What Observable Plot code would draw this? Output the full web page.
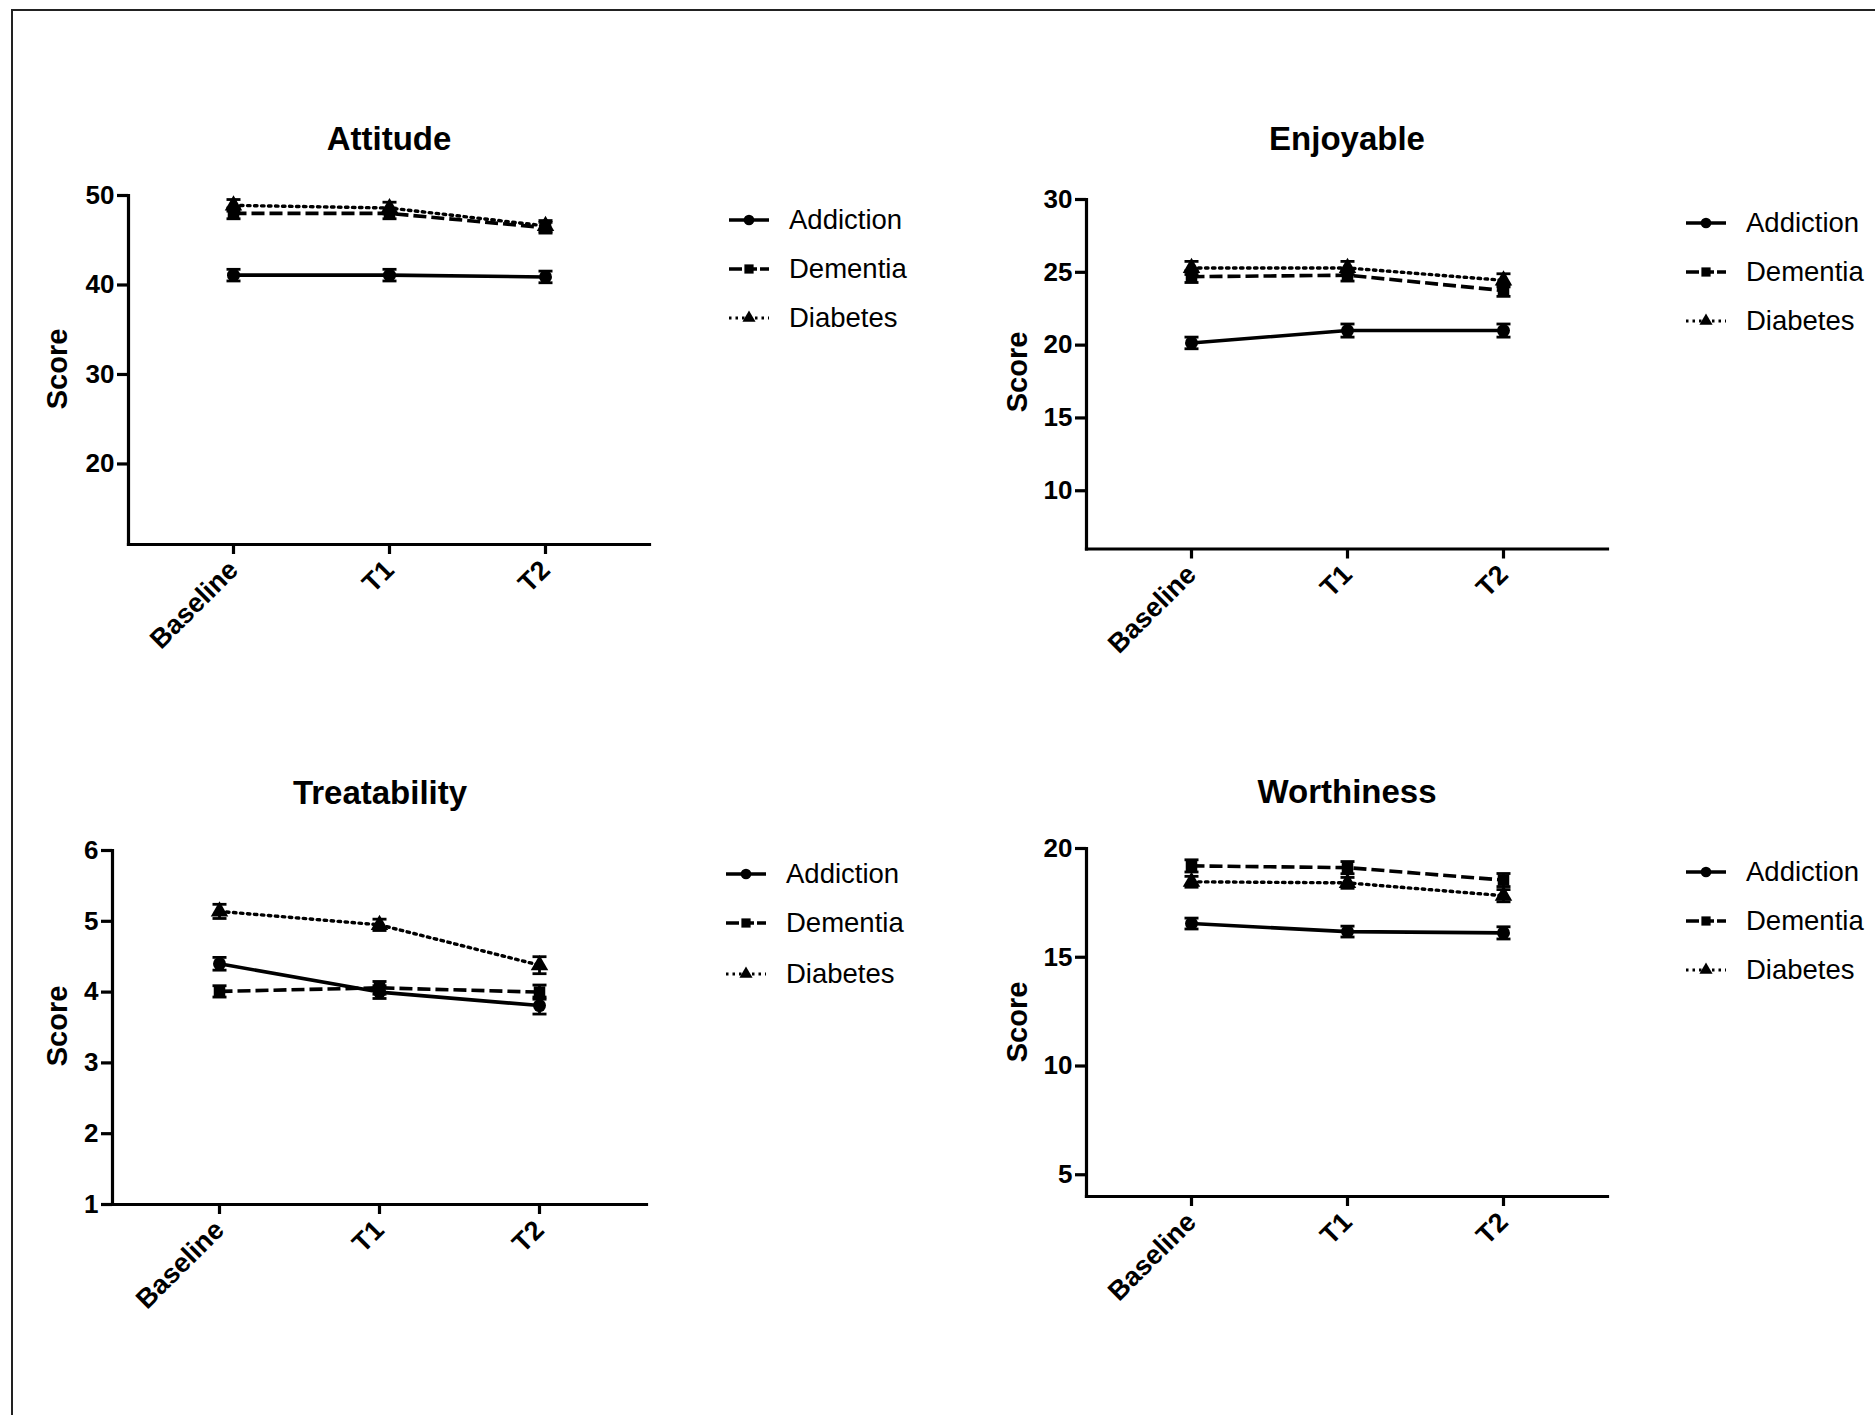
<!DOCTYPE html>
<html>
<head>
<meta charset="utf-8">
<script src="https://cdn.jsdelivr.net/npm/d3@7"></script>
<script src="https://cdn.jsdelivr.net/npm/@observablehq/plot@0.6"></script>
<style>
  html, body { margin: 0; padding: 0; background: #fff; }
  #root { position: relative; width: 1875px; height: 1415px; overflow: hidden; background: #fff; font-family: "Liberation Sans", Arial, sans-serif; color: #000; }
  .border { position: absolute; left: 11px; top: 9px; width: 1900px; height: 1500px; border-left: 2px solid #222; border-top: 2px solid #222; }
  .ptitle { position: absolute; font-weight: bold; font-size: 33px; transform: translate(-50%, -50%); white-space: nowrap; }
  .ylab { position: absolute; font-weight: bold; font-size: 29px; transform: translate(-50%, -50%) rotate(-90deg); white-space: nowrap; }
  .legrow { position: absolute; height: 34px; display: flex; align-items: center; white-space: nowrap; }
  .legtext { font-size: 27.5px; font-weight: normal; }
  .panel { position: absolute; }
  .panel svg { max-width: none !important; overflow: visible; }
</style>
</head>
<body>
<div id="root"><div class="border"></div></div>
<script>
// ---------- data ----------
const timepoints = ["Baseline", "T1", "T2"];
const groups = ["Addiction", "Dementia", "Diabetes"];
const panelTitles = ["Attitude", "Enjoyable", "Treatability", "Worthiness"];
const yAxisLabel = "Score";

const attitudeAddiction = [41.1, 41.1, 40.9];
const attitudeDementia = [48.0, 48.0, 46.4];
const attitudeDiabetes = [48.9, 48.6, 46.6];
const attitudeAddictionSem = [0.65, 0.65, 0.65];
const attitudeDementiaSem = [0.6, 0.6, 0.6];
const attitudeDiabetesSem = [0.65, 0.65, 0.6];
const attitudeTicks = [20, 30, 40, 50];
const attitudeDomain = [11, 50];

const enjoyableAddiction = [20.15, 21.0, 21.0];
const enjoyableDementia = [24.7, 24.8, 23.75];
const enjoyableDiabetes = [25.3, 25.3, 24.45];
const enjoyableAddictionSem = [0.4, 0.45, 0.45];
const enjoyableDementiaSem = [0.4, 0.4, 0.4];
const enjoyableDiabetesSem = [0.45, 0.45, 0.45];
const enjoyableTicks = [10, 15, 20, 25, 30];
const enjoyableDomain = [6, 30];

const treatAddiction = [4.40, 4.00, 3.81];
const treatDementia = [4.01, 4.06, 4.00];
const treatDiabetes = [5.14, 4.95, 4.38];
const treatAddictionSem = [0.09, 0.09, 0.12];
const treatDementiaSem = [0.08, 0.09, 0.10];
const treatDiabetesSem = [0.10, 0.08, 0.12];
const treatTicks = [1, 2, 3, 4, 5, 6];
const treatDomain = [1, 6];

const worthAddiction = [16.55, 16.18, 16.12];
const worthDementia = [19.2, 19.12, 18.55];
const worthDiabetes = [18.47, 18.42, 17.83];
const worthAddictionSem = [0.25, 0.25, 0.28];
const worthDementiaSem = [0.28, 0.28, 0.3];
const worthDiabetesSem = [0.25, 0.25, 0.28];
const worthTicks = [5, 10, 15, 20];
const worthDomain = [4, 20];

// ---------- layout ----------
const layouts = [
  {x0: 128, x1: 649, yTop: 194.5, yBottom: 543.5, title: [389, 139], ylab: [57, 369], legX: 729, legRows: [220, 269, 318]},
  {x0: 1086, x1: 1607, yTop: 198.5, yBottom: 548, title: [1347, 139], ylab: [1017, 372], legX: 1686, legRows: [222.5, 271.5, 320.5]},
  {x0: 112, x1: 646, yTop: 850, yBottom: 1204, title: [380, 793], ylab: [57, 1026], legX: 726, legRows: [874, 923, 973.5]},
  {x0: 1086, x1: 1607, yTop: 848, yBottom: 1196, title: [1347, 792], ylab: [1017, 1022], legX: 1686, legRows: [872, 921, 970]}
];
const panelData = [
  {means: [attitudeAddiction, attitudeDementia, attitudeDiabetes], sems: [attitudeAddictionSem, attitudeDementiaSem, attitudeDiabetesSem], ticks: attitudeTicks, domain: attitudeDomain},
  {means: [enjoyableAddiction, enjoyableDementia, enjoyableDiabetes], sems: [enjoyableAddictionSem, enjoyableDementiaSem, enjoyableDiabetesSem], ticks: enjoyableTicks, domain: enjoyableDomain},
  {means: [treatAddiction, treatDementia, treatDiabetes], sems: [treatAddictionSem, treatDementiaSem, treatDiabetesSem], ticks: treatTicks, domain: treatDomain},
  {means: [worthAddiction, worthDementia, worthDiabetes], sems: [worthAddictionSem, worthDementiaSem, worthDiabetesSem], ticks: worthTicks, domain: worthDomain}
];

const dashes = [null, "13,5", "2.5,4.5"];
const capSymbol = {
  draw(context, size) {
    const w = Math.sqrt(size / Math.PI);
    context.moveTo(-w, 0);
    context.lineTo(w, 0);
  }
};

const root = document.getElementById("root");
const ML = 75, MR = 12, MT = 20, MB = 150;

panelData.forEach((pd, pi) => {
  const L = layouts[pi];
  const rows = [];
  groups.forEach((g, gi) => timepoints.forEach((t, ti) => rows.push({group: g, time: t, value: pd.means[gi][ti], sem: pd.sems[gi][ti]})));
  const plotW = L.x1 - L.x0, plotH = L.yBottom - L.yTop;
  const lineMarks = groups.map((g, gi) => Plot.line(rows.filter(d => d.group === g), {
    x: "time", y: "value", stroke: "#000", strokeWidth: gi === 2 ? 3.4 : 3.6,
    strokeDasharray: dashes[gi] || undefined,
    strokeLinecap: gi === 2 ? "round" : "butt"
  }));
  const svg = Plot.plot({
    width: ML + plotW + MR,
    height: MT + plotH + MB,
    marginLeft: ML, marginRight: MR, marginTop: MT, marginBottom: MB,
    style: {fontFamily: "Liberation Sans, Arial, sans-serif", fontSize: "26px", fontWeight: "bold", color: "#000", background: "transparent", overflow: "visible"},
    x: {type: "point", domain: timepoints, padding: 0.665, label: null},
    y: {domain: pd.domain, label: null},
    symbol: {domain: groups, range: ["circle", "square", "triangle"]},
    marks: [
      Plot.frame({anchor: "left", stroke: "#000", strokeWidth: 3.2}),
      Plot.frame({anchor: "bottom", stroke: "#000", strokeWidth: 3.2}),
      Plot.axisY({ticks: pd.ticks, tickSize: 11, tickPadding: 3, strokeWidth: 3.2, label: null, tickFormat: d => String(d)}),
      Plot.axisX({tickSize: 10, tickPadding: 11, tickRotate: -45, strokeWidth: 3.2, label: null, fontSize: 27}),
      Plot.ruleX(rows, {x: "time", y1: d => d.value - d.sem, y2: d => d.value + d.sem, stroke: "#000", strokeWidth: 2.8}),
      Plot.dot(rows, {x: "time", y: d => d.value - d.sem, symbol: capSymbol, r: 7, stroke: "#000", strokeWidth: 2.8, fill: "none"}),
      Plot.dot(rows, {x: "time", y: d => d.value + d.sem, symbol: capSymbol, r: 7, stroke: "#000", strokeWidth: 2.8, fill: "none"}),
      ...lineMarks,
      Plot.dot(rows, {x: "time", y: "value", symbol: "group", fill: "#000", stroke: "none", r: 6.5})
    ]
  });
  const holder = document.createElement("div");
  holder.className = "panel";
  holder.style.left = (L.x0 - ML) + "px";
  holder.style.top = (L.yTop - MT) + "px";
  holder.appendChild(svg);
  root.appendChild(holder);

  // title
  const t = document.createElement("div");
  t.className = "ptitle";
  t.textContent = panelTitles[pi];
  t.style.left = L.title[0] + "px";
  t.style.top = L.title[1] + "px";
  root.appendChild(t);

  // y label
  const yl = document.createElement("div");
  yl.className = "ylab";
  yl.textContent = yAxisLabel;
  yl.style.left = L.ylab[0] + "px";
  yl.style.top = L.ylab[1] + "px";
  root.appendChild(yl);

  // legend
  groups.forEach((g, gi) => {
    const row = document.createElement("div");
    row.className = "legrow";
    row.style.left = L.legX + "px";
    row.style.top = (L.legRows[gi] - 17) + "px";
    const sw = d3.create("svg").attr("width", 42).attr("height", 34).style("margin-right", "18px").style("overflow", "visible");
    const ln = sw.append("line").attr("x1", 0).attr("x2", 40).attr("y1", 17).attr("y2", 17)
      .attr("stroke", "#000").attr("stroke-width", 3.4);
    if (gi === 1) ln.attr("stroke-dasharray", "13,4,4,3,4,3");
    if (gi === 2) ln.attr("stroke-dasharray", "2.5,4").attr("stroke-width", 2.8);
    const sym = [d3.symbolCircle, d3.symbolSquare, d3.symbolTriangle][gi];
    sw.append("path").attr("transform", "translate(20,17)").attr("d", d3.symbol(sym, [90, 85, 75][gi])()).attr("fill", "#000");
    row.appendChild(sw.node());
    const tx = document.createElement("span");
    tx.className = "legtext";
    tx.textContent = g;
    row.appendChild(tx);
    root.appendChild(row);
  });
});
</script>
</body>
</html>
